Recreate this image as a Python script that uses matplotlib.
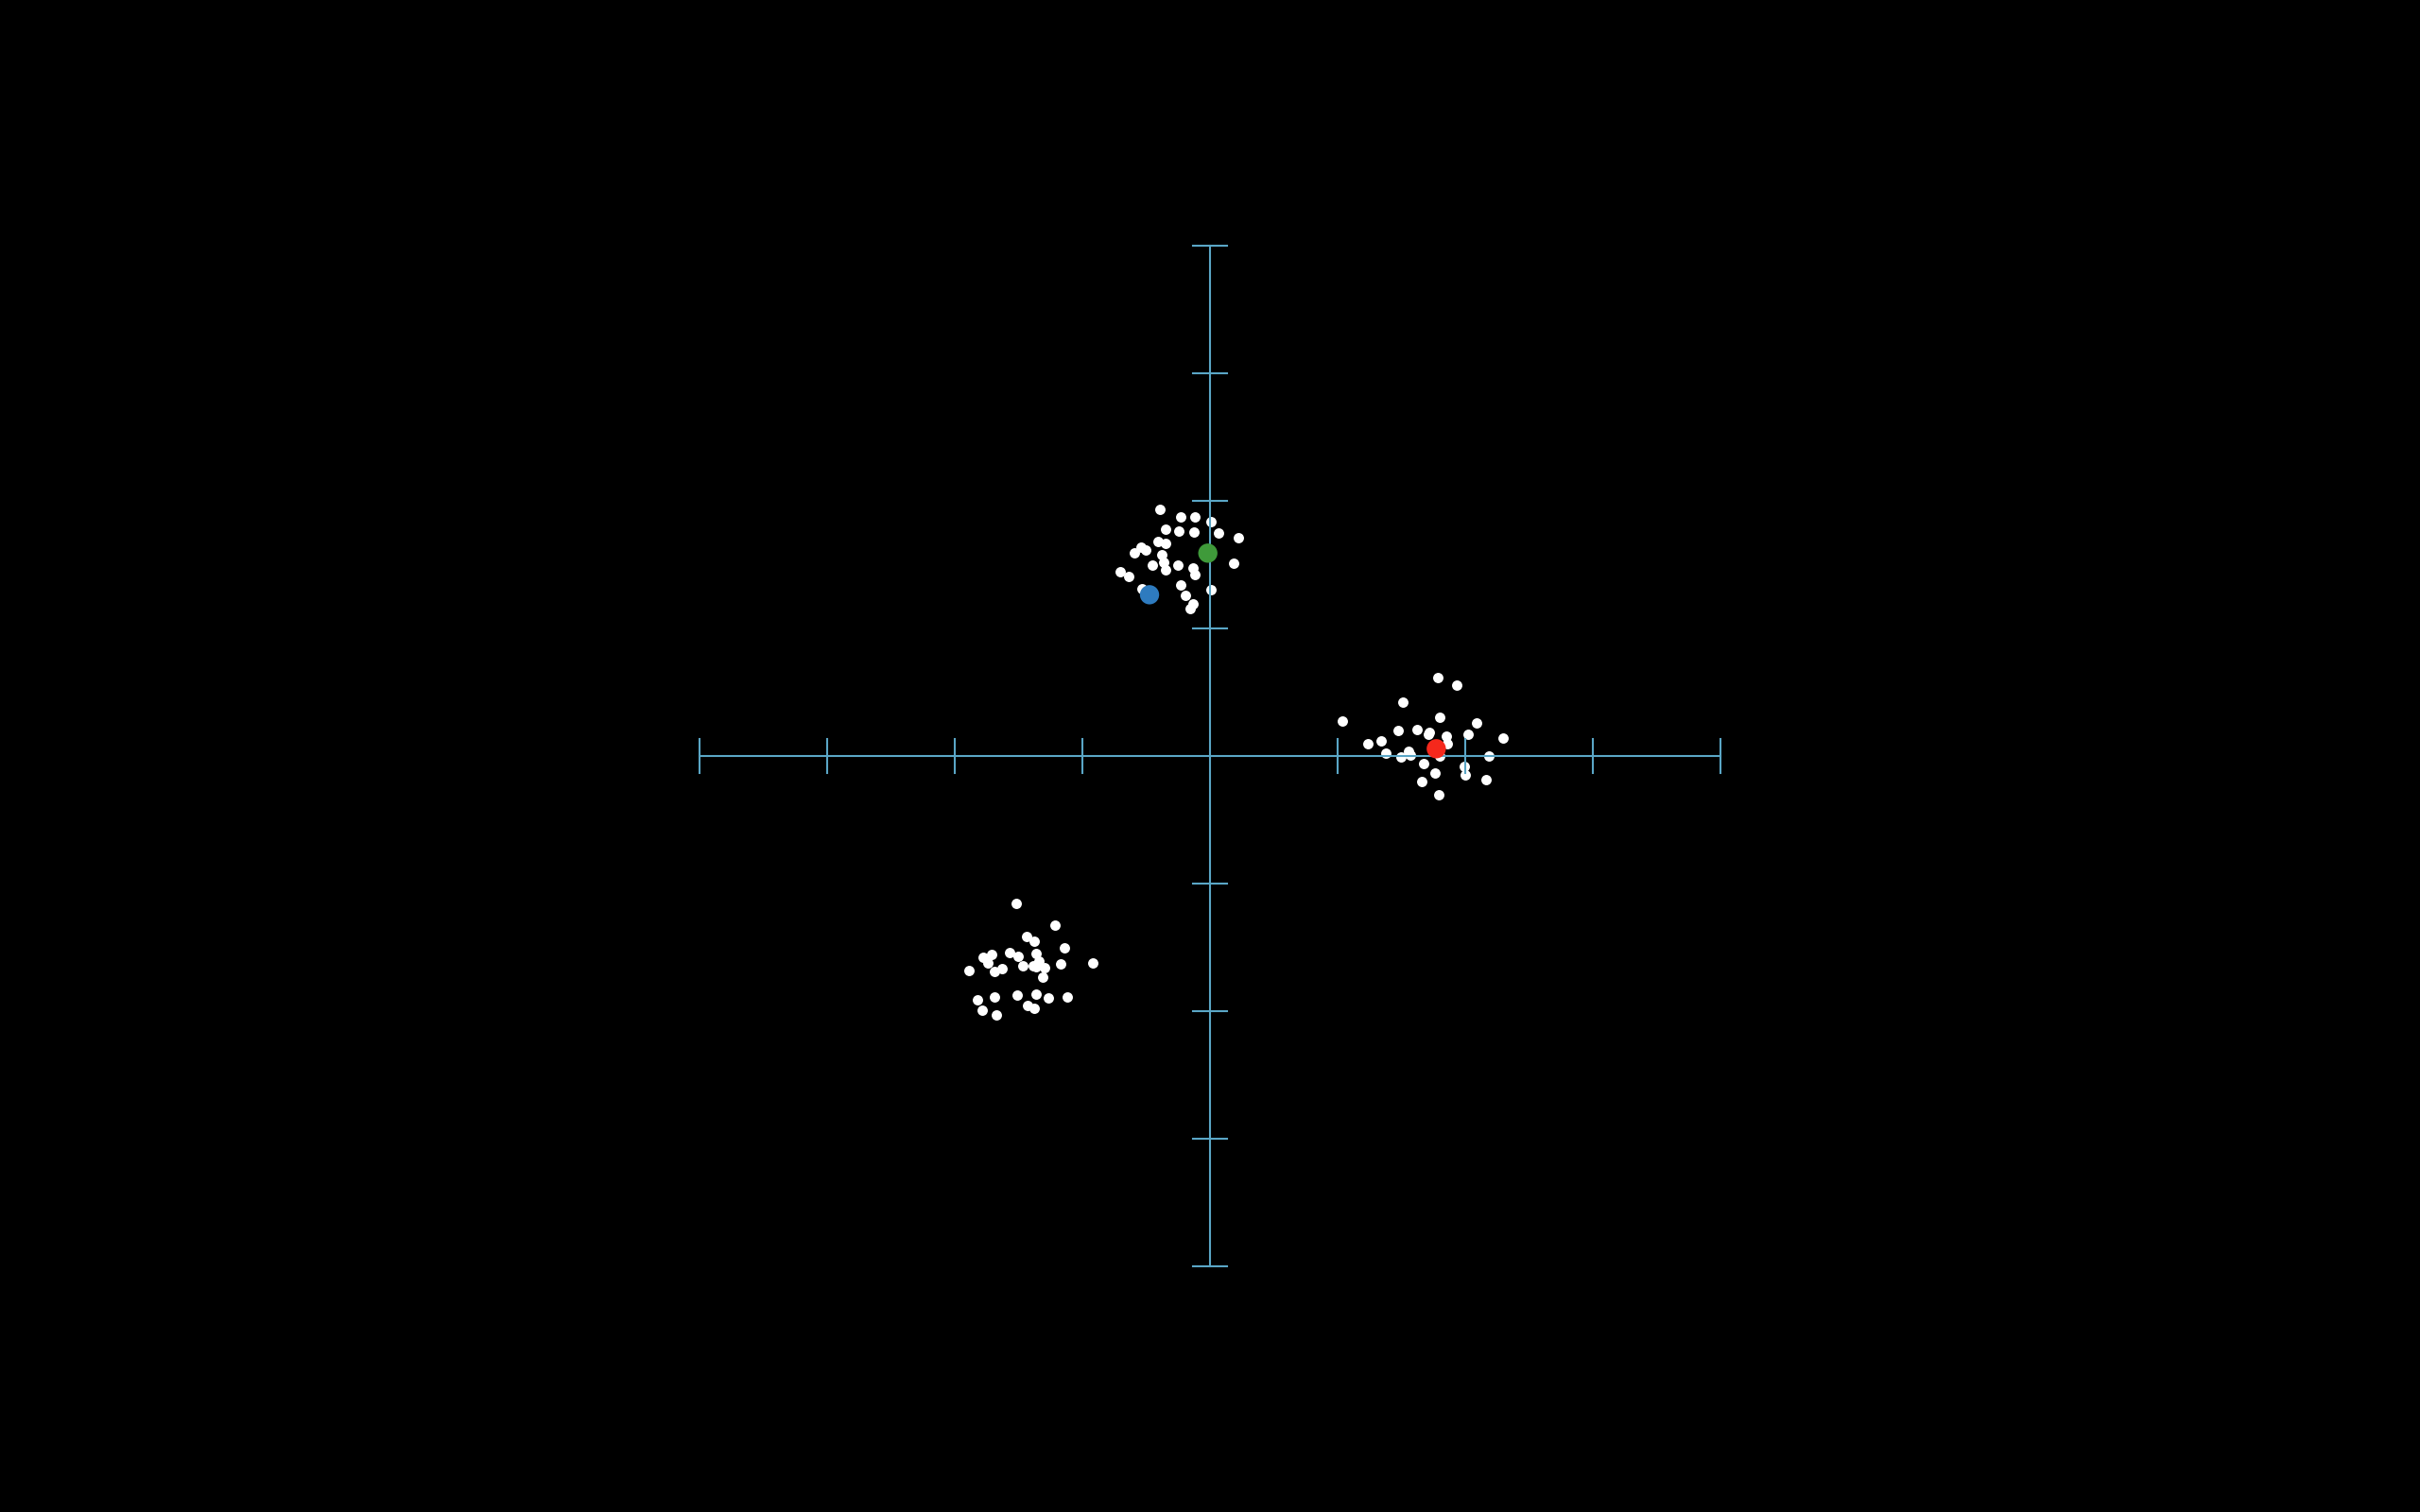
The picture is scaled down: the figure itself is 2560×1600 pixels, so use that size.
import numpy as np
import matplotlib
matplotlib.use('Agg')
import matplotlib.pyplot as plt

# data points (three groups)
cluster_a_x = [-1.516, -1.215, -1.439, -1.378, -1.141, -1.713, -1.775, -1.568, -1.504, -1.365,
               -1.741, -1.891, -1.691, -1.630, -1.465, -1.387, -1.343, -1.296, -1.365, -1.173,
               -0.921, -1.309, -1.825, -1.691, -1.511, -1.361, -1.267, -1.119, -1.785, -1.676,
               -1.427, -1.380]
cluster_a_y = [-1.158, -1.328, -1.417, -1.450, -1.501, -1.556, -1.580, -1.543, -1.570, -1.548,
               -1.622, -1.681, -1.689, -1.669, -1.647, -1.642, -1.610, -1.657, -1.652, -1.632,
               -1.622, -1.736, -1.911, -1.889, -1.874, -1.867, -1.896, -1.889, -1.990, -2.030,
               -1.956, -1.976]

cluster_b_x = [-0.390, -0.232, -0.121, 0.007, -0.350, -0.242, -0.128, 0.064, 0.220, -0.407,
               -0.350, -0.543, -0.504, -0.593, -0.375, 0.185, -0.454, -0.363, -0.350, -0.252,
               -0.131, -0.119, -0.704, -0.637, -0.227, 0.007, -0.531, -0.195, -0.133, -0.158]
cluster_b_y = [1.936, 1.876, 1.872, 1.835, 1.776, 1.763, 1.756, 1.746, 1.713, 1.679,
               1.667, 1.637, 1.617, 1.593, 1.576, 1.509, 1.494, 1.519, 1.457, 1.494,
               1.476, 1.420, 1.442, 1.405, 1.338, 1.304, 1.313, 1.259, 1.190, 1.158]

cluster_c_x = [1.787, 1.936, 1.513, 1.039, 1.798, 2.089, 1.474, 1.622, 1.721, 1.713,
               1.852, 2.024, 2.296, 1.339, 1.237, 1.857, 1.376, 1.499, 1.558, 1.573,
               1.800, 2.183, 1.674, 1.995, 1.761, 2.000, 1.662, 2.161, 1.795]
cluster_c_y = [0.613, 0.556, 0.425, 0.274, 0.304, 0.259, 0.202, 0.210, 0.185, 0.168,
               0.158, 0.173, 0.141, 0.119, 0.099, 0.094, 0.020, -0.010, 0.035, 0.005,
               0.000, 0.000, -0.059, -0.081, -0.136, -0.148, -0.198, -0.185, -0.304]

# centroids
centroid_x = [-0.474, -0.017, 1.773]
centroid_y = [1.264, 1.590, 0.057]
centroid_colors = ['#2e7bbf', '#3f9a3a', '#f5281c']

ticks = [-4, -3, -2, -1, 0, 1, 2, 3, 4]

axis_color = '#5aa6c6'
tick_len = 0.133

fig = plt.figure(figsize=(25.6, 16), dpi=100, facecolor='black')
ax = fig.add_axes([0, 0, 1, 1])
ax.set_facecolor('black')
ax.set_xlim(-1280 / 135, 1280 / 135)
ax.set_ylim(-800 / 135, 800 / 135)
ax.axis('off')

all_x = cluster_a_x + cluster_b_x + cluster_c_x
all_y = cluster_a_y + cluster_b_y + cluster_c_y
ax.scatter(all_x, all_y, s=62, color='white', linewidths=0, zorder=2)

# cross-shaped axes
ax.plot([ticks[0], ticks[-1]], [0, 0], color=axis_color, lw=1.5, zorder=3)
ax.plot([0, 0], [ticks[0], ticks[-1]], color=axis_color, lw=1.5, zorder=3)
for t in ticks:
    if t == 0:
        continue
    ax.plot([t, t], [-tick_len, tick_len], color=axis_color, lw=1.5, zorder=3)
    ax.plot([-tick_len, tick_len], [t, t], color=axis_color, lw=1.5, zorder=3)

ax.scatter(centroid_x, centroid_y, s=215, c=centroid_colors, linewidths=0, zorder=4)

fig.savefig('out.png', dpi=100, facecolor='black')
